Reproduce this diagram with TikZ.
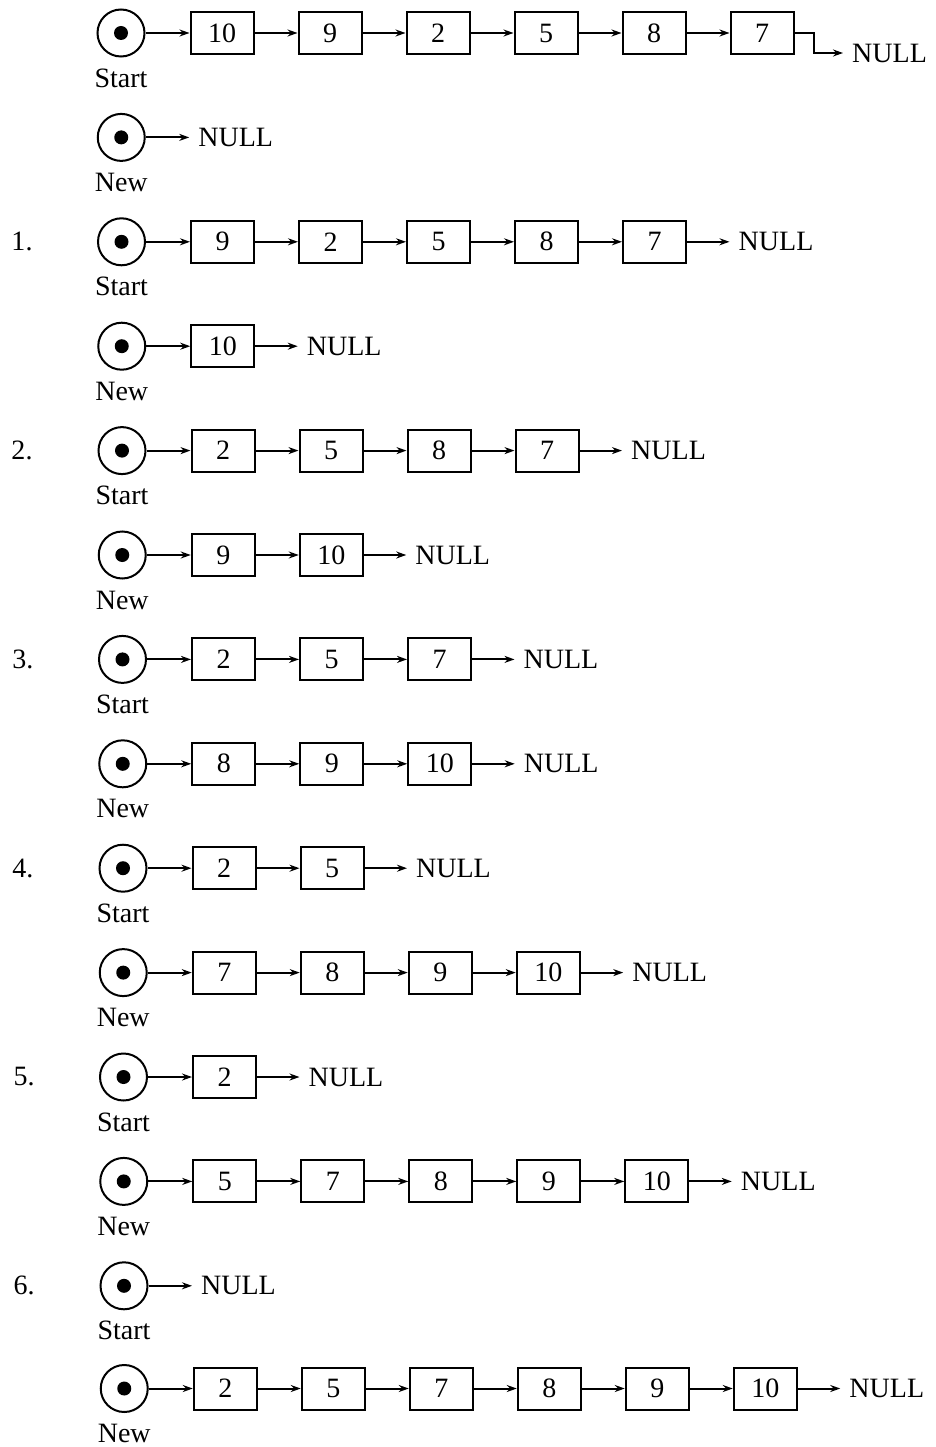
\documentclass[tikz,border=0pt]{standalone}
\usepackage{fontspec}
\setmainfont{Liberation Serif}
\usetikzlibrary{arrows.meta}
\newcommand\txt{\fontsize{28}{30}\selectfont}
\tikzset{
 ptr/.style={circle,draw,line width=2pt,minimum size=47pt,inner sep=0pt},
 box/.style={draw,line width=2pt,minimum width=63pt,minimum height=42pt,inner sep=0pt,font=\txt},
 lbl/.style={inner sep=0pt,font=\txt},
 arr/.style={line width=2pt,-{Stealth[length=10pt,width=7pt]}},
}
% #1 id, #2 y, #3 shift, #4 label, #5 count, #6 list
\newcommand\chain[6]{%
 \node[ptr] (b#1-0) at ({121+#3},#2) {};
 \fill (b#1-0.center) circle[radius=7pt];
 \node[lbl] (l#1) at ({121+#3},{#2+45}) {#4};
 \ifnum#5>0
 \foreach \v [count=\i] in {#6} {
   \pgfmathtruncatemacro\j{\i-1}
   \node[box] (b#1-\i) at ({222+108*(\i-1)+#3},#2) {\v};
   \draw[arr] (b#1-\j) -- (b#1-\i);
 }
 \fi
}
% #1 id, #2 count, #3 y, #4 shift
\newcommand\nullend[4]{%
 \node[lbl,anchor=west] (n#1) at ({198+108*#2+#4},#3) {NULL};
 \draw[arr,shorten >=9pt] (b#1-#2) -- (n#1.west);
}
\begin{document}
\begin{tikzpicture}[x=1pt,y=-1pt]
\useasboundingbox (0,0) rectangle (936,1447);
% row 0 Start
\chain{0}{33}{0}{Start}{6}{10,9,2,5,8,7}
\node[lbl,anchor=west] (n0) at (852,53) {NULL};
\draw[arr,shorten >=9pt] (b0-6.east) -- ++(19,0) |- (n0.west);
% row 0 New
\chain{1}{137.4}{0.25}{New}{0}{}
\nullend{1}{0}{137.4}{0.25}
% step 1
\node[lbl] (s1) at (22,241.8) {1.};
\chain{2}{241.8}{0.5}{Start}{5}{9,2,5,8,7}
\nullend{2}{5}{241.8}{0.5}
\chain{3}{346.2}{0.75}{New}{1}{10}
\nullend{3}{1}{346.2}{0.75}
% step 2
\node[lbl] (s2) at (22,450.6) {2.};
\chain{4}{450.6}{1}{Start}{4}{2,5,8,7}
\nullend{4}{4}{450.6}{1}
\chain{5}{555}{1.25}{New}{2}{9,10}
\nullend{5}{2}{555}{1.25}
% step 3
\node[lbl] (s3) at (23,659.4) {3.};
\chain{6}{659.4}{1.5}{Start}{3}{2,5,7}
\nullend{6}{3}{659.4}{1.5}
\chain{7}{763.8}{1.75}{New}{3}{8,9,10}
\nullend{7}{3}{763.8}{1.75}
% step 4
\node[lbl] (s4) at (23,868.2) {4.};
\chain{8}{868.2}{2}{Start}{2}{2,5}
\nullend{8}{2}{868.2}{2}
\chain{9}{972.6}{2.25}{New}{4}{7,8,9,10}
\nullend{9}{4}{972.6}{2.25}
% step 5
\node[lbl] (s5) at (24,1077) {5.};
\chain{10}{1077}{2.5}{Start}{1}{2}
\nullend{10}{1}{1077}{2.5}
\chain{11}{1181.4}{2.75}{New}{5}{5,7,8,9,10}
\nullend{11}{5}{1181.4}{2.75}
% step 6
\node[lbl] (s6) at (24,1285.8) {6.};
\chain{12}{1285.8}{3}{Start}{0}{}
\nullend{12}{0}{1285.8}{3}
\chain{13}{1388.5}{3.25}{New}{6}{2,5,7,8,9,10}
\nullend{13}{6}{1388.5}{3.25}
\end{tikzpicture}
\end{document}
